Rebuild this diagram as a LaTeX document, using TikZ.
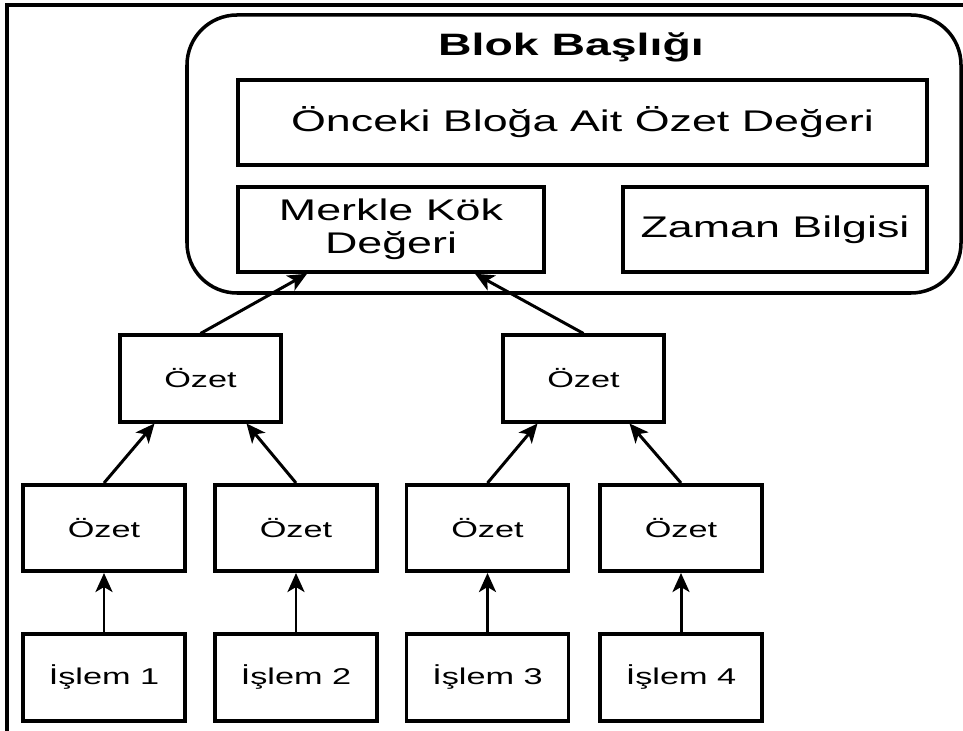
\documentclass[tikz,border=0pt]{standalone}
\usepackage{fontspec}
\setmainfont{Liberation Sans}[FakeStretch=1.5]
\usetikzlibrary{arrows.meta}

\begin{document}
\begin{tikzpicture}[
  box/.style={draw,line width=2pt,inner sep=0pt,align=center},
  bigbox/.style={box,minimum height=1.70cm,font=\fontsize{17}{19}\selectfont},
  hashbox/.style={box,minimum width=3.24cm,minimum height=1.73cm,font=\fontsize{13}{15}\selectfont},
  link/.style={line width=1.7pt,-{Stealth[length=0.38cm,width=0.34cm,inset=0.1cm]}}]
\useasboundingbox (0,0) rectangle (19.26,-14.62);
\draw[line width=2pt] (19.26,-0.1) -- (0.14,-0.1) -- (0.14,-14.62);

% block header
\draw[line width=2pt,rounded corners=1cm] (3.74,-0.30) rectangle (19.22,-5.86);
\node[font=\fontsize{17.6}{20}\selectfont\bfseries] (title) at (11.42,-0.94) {Blok Başlığı};
\node[bigbox,minimum width=13.78cm] (prev) at (11.65,-2.45) {Önceki Bloğa Ait Özet Değeri};
\node[bigbox,minimum width=6.12cm] (root) at (7.82,-4.59) {Merkle Kök\\Değeri};
\node[bigbox,minimum width=6.08cm] (time) at (15.5,-4.59) {Zaman Bilgisi};

% merkle tree
\node[hashbox,minimum width=3.22cm] (h5) at (4.01,-7.57) {Özet};
\node[hashbox,minimum width=3.22cm] (h6) at (11.67,-7.57) {Özet};
\draw[link] (h5.north) -- ([xshift=-1.68cm]root.south);
\draw[link] (h6.north) -- ([xshift=1.68cm]root.south);

\foreach \i/\x in {1/2.08,2/5.92,3/9.75,4/13.62}{
  \node[hashbox] (t\i) at (\x,-13.55) {İşlem \i};
  \node[hashbox] (h\i) at (\x,-10.56) {Özet};
  \draw[link] (t\i) -- (h\i);
}
\draw[link] (h1.north) -- ([xshift=-0.92cm]h5.south);
\draw[link] (h2.north) -- ([xshift=0.92cm]h5.south);
\draw[link] (h3.north) -- ([xshift=-0.92cm]h6.south);
\draw[link] (h4.north) -- ([xshift=0.92cm]h6.south);

\end{tikzpicture}
\end{document}
